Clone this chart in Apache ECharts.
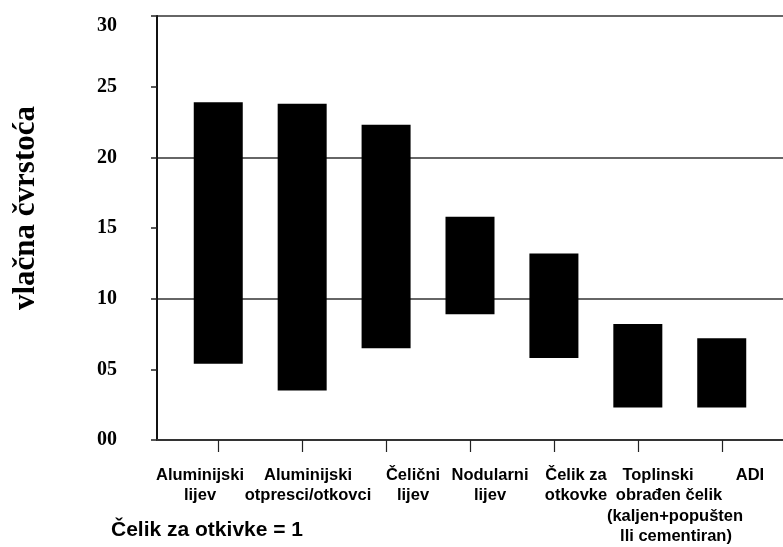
<!DOCTYPE html>
<html>
<head>
<meta charset="utf-8">
<script src="https://cdn.jsdelivr.net/npm/echarts@6/dist/echarts.min.js"></script>
<style>
html,body{margin:0;padding:0;background:#fff;}
#chart{width:783px;height:547px;}
</style>
</head>
<body>
<div id="chart"></div>
<script>
// ---- data ----
const categories = [
  'Aluminijski\nlijev',
  'Aluminijski\notpresci/otkovci',
  'Čelični\nlijev',
  'Nodularni\nlijev',
  'Čelik za\notkovke',
  'Toplinski\nobrađen čelik\n(kaljen+popušten\nlli cementiran)',
  'ADI'
];
const lowValues  = [5.4, 3.5, 6.5, 8.9, 5.8, 2.3, 2.3];
const highValues = [23.9, 23.8, 22.3, 15.8, 13.2, 8.2, 7.2];
const yTickLabels = ['00', '05', '10', '15', '20', '25', '30'];
const yTitle = 'vlačna čvrstoća';
const noteText = 'Čelik za otkivke = 1';

// ---- label horizontal offsets (px) per line, style only ----
const labelLineOffsets = [[-18,-18],[6,6],[27,27],[20,20],[22,22],[20,31,37,38],[28]];

const catFont = {fontSize: 16.5, fontWeight: 'bold', fontFamily: '"Liberation Sans", Arial, sans-serif', color: '#000', lineHeight: 20.5};
const rich = {};
labelLineOffsets.forEach((offs, i) => {
  offs.forEach((d, j) => {
    rich['o' + i + '_' + j] = Object.assign({}, catFont, {
      padding: d >= 0 ? [0, 0, 0, 2 * d] : [0, -2 * d, 0, 0]
    });
  });
});

const chart = echarts.init(document.getElementById('chart'), null, {renderer: 'canvas'});
const option = {
  backgroundColor: '#fff',
  animation: false,
  title: {
    text: noteText,
    left: 106, top: 515,
    textStyle: {fontSize: 21, fontWeight: 'bold', fontFamily: '"Liberation Sans", Arial, sans-serif', color: '#000'}
  },
  graphic: [{
    type: 'text',
    x: 26, y: 208,
    rotation: Math.PI / 2,
    style: {
      text: yTitle,
      font: 'bold 31px "Liberation Serif", "Times New Roman", serif',
      fill: '#000',
      textAlign: 'center',
      textVerticalAlign: 'middle'
    }
  }],
  grid: [
    {left: 157, right: 0, top: 16, bottom: 107, containLabel: false, outerBoundsMode: 'none'},
    {left: 176, right: 19, top: 16, bottom: 107, containLabel: false, outerBoundsMode: 'none'}
  ],
  xAxis: [{
    gridIndex: 0,
    type: 'value',
    min: -0.73, max: 6.73,
    splitLine: {show: false},
    axisLine: {show: true, onZero: false, lineStyle: {color: '#333', width: 2}},
    axisTick: {show: false},
    axisLabel: {show: false}
  }, {
    gridIndex: 1,
    type: 'category',
    data: categories,
    boundaryGap: true,
    splitLine: {show: false},
    axisLine: {show: false, onZero: false},
    axisTick: {show: true, alignWithLabel: true, interval: 0, length: 12, lineStyle: {color: '#222', width: 1.2}},
    axisLabel: {
      show: true,
      interval: 0,
      hideOverlap: false,
      margin: 25,
      formatter: function (v, idx) {
        const lines = v.split('\n');
        return lines.map((l, j) => '{o' + idx + '_' + j + '|' + l + '}').join('\n');
      },
      rich: rich,
      fontSize: 16.5, fontWeight: 'bold', fontFamily: '"Liberation Sans", Arial, sans-serif', color: '#000', lineHeight: 20.5
    }
  }],
  yAxis: [{
    gridIndex: 0,
    type: 'value',
    min: 0, max: 30, interval: 5,
    axisLine: {show: true, onZero: false, lineStyle: {color: '#111', width: 2}},
    axisTick: {show: true, length: 6, lineStyle: {color: '#222', width: 1.5}},
    splitLine: {show: false},
    axisLabel: {
      margin: 40,
      showMinLabel: true, showMaxLabel: true,
      fontSize: 20, fontWeight: 'bold', fontFamily: '"Liberation Serif", "Times New Roman", serif', color: '#000',
      formatter: function (v) {
        const s = yTickLabels[Math.round(v / 5)];
        return v === 30 ? '{t|' + s + '}' : s;
      },
      rich: {t: {fontSize: 20, fontWeight: 'bold', fontFamily: '"Liberation Serif", "Times New Roman", serif', color: '#000', padding: [20, 0, 0, 0]}}
    }
  }, {
    gridIndex: 0,
    type: 'value',
    min: 0, max: 30, interval: 10,
    axisLine: {show: false, onZero: false},
    axisTick: {show: false},
    axisLabel: {show: false},
    splitLine: {show: true, lineStyle: {color: '#333', width: 1.6}}
  }, {
    gridIndex: 1,
    type: 'value',
    min: 0, max: 30,
    show: false
  }],
  series: [{
    type: 'custom',
    xAxisIndex: 0, yAxisIndex: 0,
    encode: {x: 0, y: [1, 2]},
    data: categories.map((c, i) => [i, lowValues[i], highValues[i]]),
    renderItem: function (params, api) {
      const x = api.value(0);
      const pTop = api.coord([x, api.value(2)]);
      const pBot = api.coord([x, api.value(1)]);
      const w = api.size([0.584, 0])[0];
      return {
        type: 'rect',
        shape: {x: pTop[0] - w / 2, y: pTop[1], width: w, height: pBot[1] - pTop[1]},
        style: {fill: '#000'}
      };
    }
  }]
};
chart.setOption(option);
</script>
</body>
</html>
